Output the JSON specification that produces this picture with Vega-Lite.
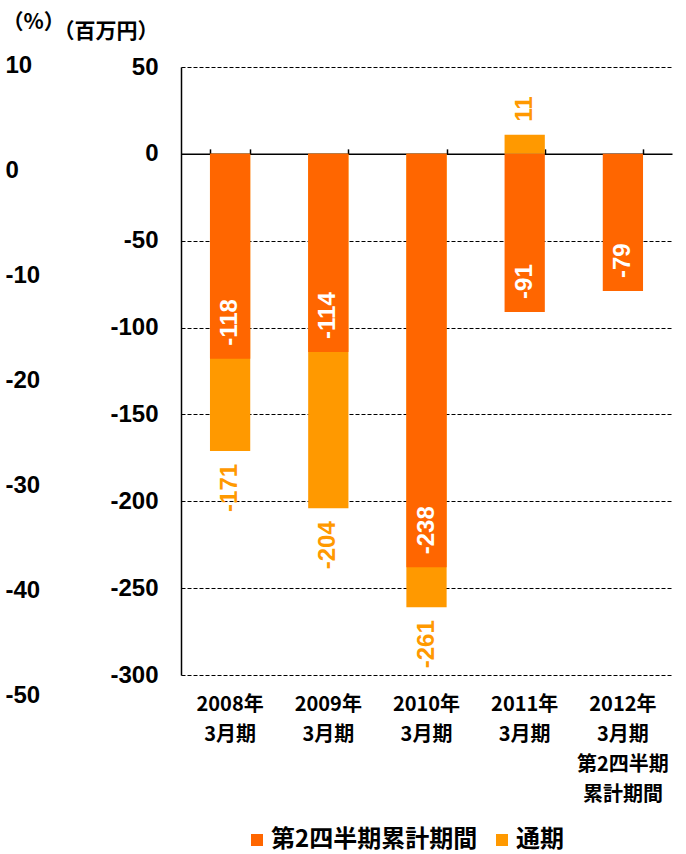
{
  "$schema": "https://vega.github.io/schema/vega-lite/v6.json",
  "autosize": "none",
  "width": 491,
  "height": 608,
  "padding": {"left": 181, "top": 67, "right": 14, "bottom": 179},
  "background": "white",
  "config": {
    "view": {"stroke": null},
    "locale": {"number": {"decimal": ".", "thousands": ",", "grouping": [3], "currency": ["", ""], "minus": "-"}}
  },
  "layer": [
    {
      "data": {
        "values": [
          {"cat": "2008年|3月期", "series": "通期", "value": -171},
          {"cat": "2009年|3月期", "series": "通期", "value": -204},
          {"cat": "2010年|3月期", "series": "通期", "value": -261},
          {"cat": "2011年|3月期", "series": "通期", "value": 11},
          {"cat": "2008年|3月期", "series": "第2四半期累計期間", "value": -118},
          {"cat": "2009年|3月期", "series": "第2四半期累計期間", "value": -114},
          {"cat": "2010年|3月期", "series": "第2四半期累計期間", "value": -238},
          {"cat": "2011年|3月期", "series": "第2四半期累計期間", "value": -91},
          {"cat": "2012年|3月期|第2四半期|累計期間", "series": "第2四半期累計期間", "value": -79}
        ]
      },
      "resolve": {"axis": {"x": "independent"}},
      "layer": [
        {
          "mark": {"type": "bar"},
          "encoding": {
            "x": {
              "field": "cat", "type": "nominal", "sort": null,
              "scale": {"paddingInner": 0.59, "paddingOuter": 0.295},
              "axis": {
                "orient": "bottom", "title": null, "domain": false, "ticks": false, "grid": false,
                "labelAngle": 0, "labelExpr": "split(datum.label, '|')",
                "labelFont": "Noto Sans CJK JP", "labelFontWeight": "bold", "labelFontSize": 20,
                "labelLineHeight": 30, "labelColor": "black", "labelPadding": 19, "labelBaseline": "top"
              }
            },
            "y": {
              "field": "value", "type": "quantitative", "stack": null,
              "scale": {"domain": [-300, 50], "nice": false, "zero": false},
              "axis": {
                "values": [50, 0, -50, -100, -150, -200, -250, -300],
                "grid": true, "gridColor": "black", "gridDash": [4, 2], "gridWidth": 1, "gridOpacity": 1,
                "domain": true, "domainColor": "black", "domainWidth": 1.5,
                "ticks": false, "labelPadding": 23,
                "labelFont": "Liberation Sans", "labelFontWeight": "bold", "labelFontSize": 24, "labelColor": "black",
                "title": "（百万円）", "titleAngle": 0, "titleAlign": "left", "titleBaseline": "middle",
                "titleX": -128, "titleY": -36, "titleFont": "Noto Sans CJK JP", "titleFontWeight": "bold",
                "titleFontSize": 21, "titleColor": "black"
              }
            },
            "color": {
              "field": "series", "type": "nominal",
              "scale": {"domain": ["第2四半期累計期間", "通期"], "range": ["#FF6600", "#FF9900"]},
              "legend": {
                "title": null, "orient": "none", "direction": "horizontal",
                "legendX": 64, "legendY": 761, "padding": 0,
                "symbolType": "square", "symbolSize": 144, "symbolStrokeWidth": 0,
                "labelFont": "Noto Sans CJK JP", "labelFontWeight": "bold", "labelFontSize": 24,
                "labelColor": "black", "labelLimit": 400, "labelOffset": 2, "columnPadding": 12
              }
            }
          }
        },
        {
          "transform": [{"filter": "datum.series === '第2四半期累計期間'"}],
          "mark": {"type": "text", "angle": 270, "align": "left", "baseline": "middle", "dx": 13,
                   "font": "Liberation Sans", "fontWeight": "bold", "fontSize": 24, "color": "white"},
          "encoding": {
            "x": {"field": "cat", "type": "nominal", "sort": null, "axis": null},
            "y": {"field": "value", "type": "quantitative", "stack": null},
            "text": {"field": "value", "type": "quantitative"}
          }
        },
        {
          "transform": [{"filter": "datum.series === '通期' && datum.value < 0"}],
          "mark": {"type": "text", "angle": 270, "align": "right", "baseline": "middle", "dx": -13,
                   "font": "Liberation Sans", "fontWeight": "bold", "fontSize": 24, "color": "#FF9900"},
          "encoding": {
            "x": {"field": "cat", "type": "nominal", "sort": null, "axis": null},
            "y": {"field": "value", "type": "quantitative", "stack": null},
            "text": {"field": "value", "type": "quantitative"}
          }
        },
        {
          "transform": [{"filter": "datum.series === '通期' && datum.value > 0"}],
          "mark": {"type": "text", "angle": 270, "align": "left", "baseline": "middle", "dx": 13,
                   "font": "Liberation Sans", "fontWeight": "bold", "fontSize": 24, "color": "#FF9900"},
          "encoding": {
            "x": {"field": "cat", "type": "nominal", "sort": null, "axis": null},
            "y": {"field": "value", "type": "quantitative", "stack": null},
            "text": {"field": "value", "type": "quantitative"}
          }
        },
        {
          "mark": {"type": "bar", "opacity": 0},
          "encoding": {
            "x": {
              "field": "cat", "type": "nominal", "sort": null,
              "axis": {
                "orient": "top", "offset": -86.86, "title": null, "labels": false, "grid": false,
                "ticks": true, "tickBand": "extent", "tickSize": 5, "tickColor": "black", "tickWidth": 1.5,
                "domain": true, "domainColor": "black", "domainWidth": 1.5
              }
            },
            "y": {"field": "value", "type": "quantitative", "stack": null}
          }
        }
      ]
    },
    {
      "data": {"values": [{"pct": 10}, {"pct": -50}]},
      "mark": {"type": "point", "opacity": 0},
      "encoding": {
        "y": {
          "field": "pct", "type": "quantitative",
          "scale": {"domain": [-50, 10], "range": [628, -2], "nice": false, "zero": false},
          "axis": {
            "orient": "left", "offset": 176, "values": [10, 0, -10, -20, -30, -40, -50],
            "domain": false, "ticks": false, "tickSize": 0, "grid": false,
            "labelAlign": "left", "labelPadding": 0,
            "labelFont": "Liberation Sans", "labelFontWeight": "bold", "labelFontSize": 24, "labelColor": "black",
            "title": "（%）", "titleAngle": 0, "titleAlign": "left", "titleBaseline": "middle",
            "titleX": -3, "titleY": -45, "titleFont": "Noto Sans CJK JP", "titleFontWeight": "bold",
            "titleFontSize": 21, "titleColor": "black"
          }
        }
      }
    }
  ],
  "resolve": {"scale": {"y": "independent"}, "axis": {"y": "independent"}}
}
